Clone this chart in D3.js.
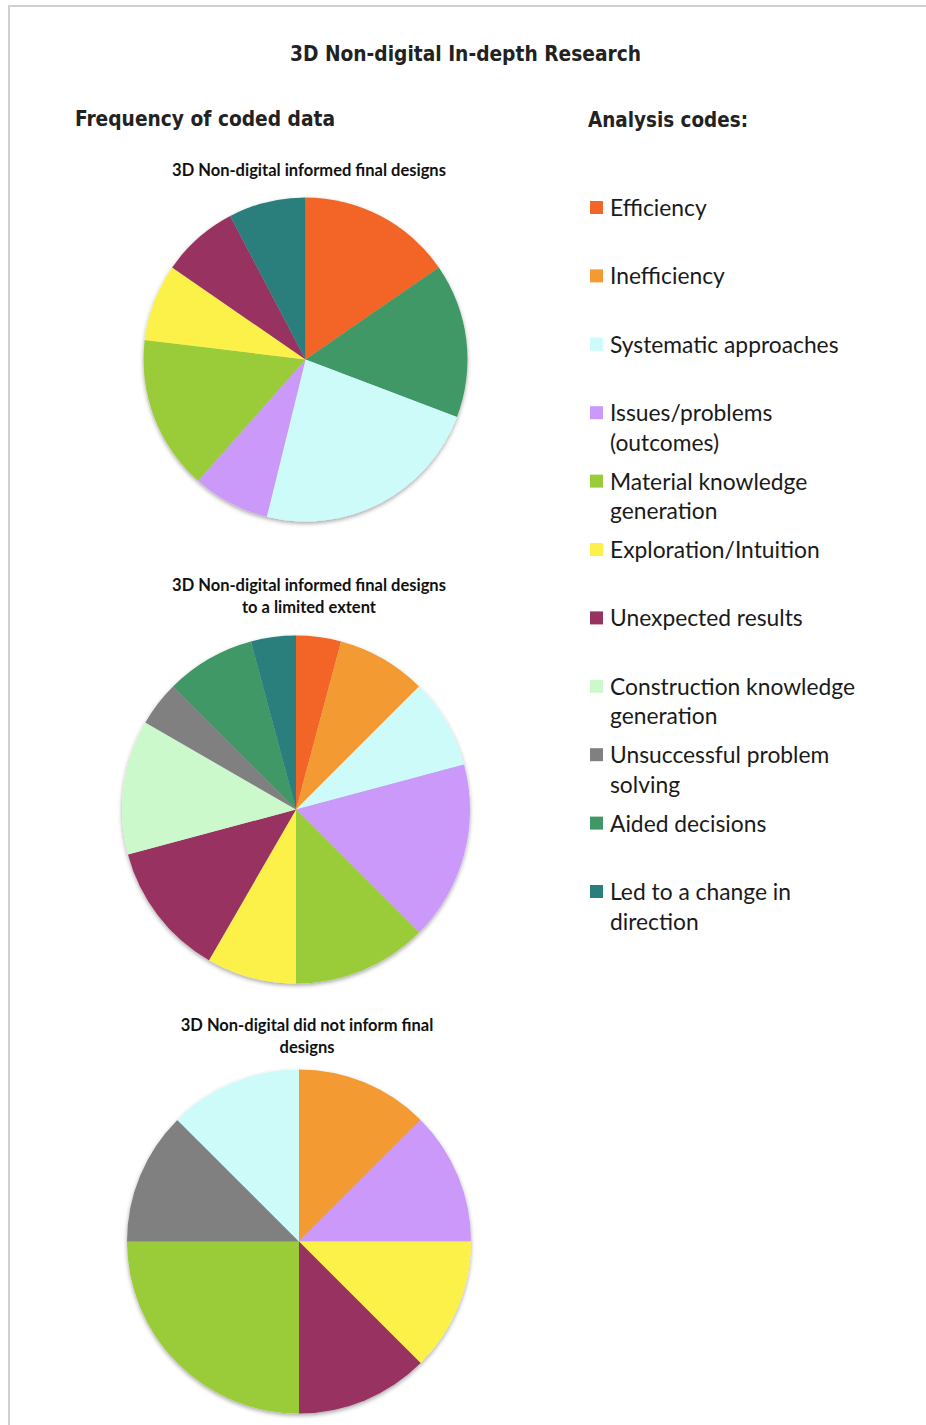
<!DOCTYPE html>
<html>
<head>
<meta charset="utf-8">
<script src="https://cdn.jsdelivr.net/npm/d3@7"></script>
<style>
  body { margin: 0; background: #fff; }
  .cond { font-family: 'Liberation Sans Narrow', 'DejaVu Sans Condensed', sans-serif; font-weight: bold; }
  .cal { font-family: 'Lato', 'Open Sans', sans-serif; }
</style>
</head>
<body>
<script>
// analysis codes (legend order) and their colours
const codes = [
  'Efficiency', 'Inefficiency', 'Systematic approaches', 'Issues/problems (outcomes)',
  'Material knowledge generation', 'Exploration/Intuition', 'Unexpected results',
  'Construction knowledge generation', 'Unsuccessful problem solving',
  'Aided decisions', 'Led to a change in direction'
];
const codeLines = [
  ['Efficiency'], ['Inefficiency'], ['Systematic approaches'], ['Issues/problems', '(outcomes)'],
  ['Material knowledge', 'generation'], ['Exploration/Intuition'], ['Unexpected results'],
  ['Construction knowledge', 'generation'], ['Unsuccessful problem', 'solving'],
  ['Aided decisions'], ['Led to a change in', 'direction']
];
const codeColors = [
  '#f26527', '#f49a33', '#ccfbfa', '#cb99f9', '#99cc38', '#fcf14a', '#983261',
  '#cbf9cc', '#808080', '#3f9866', '#2a7f7c'
];

// pie 1: informed final designs (slice order as drawn)
const pie1Codes = ['Efficiency', 'Aided decisions', 'Systematic approaches', 'Issues/problems (outcomes)',
  'Material knowledge generation', 'Exploration/Intuition', 'Unexpected results', 'Led to a change in direction'];
const pie1Values = [2, 2, 3, 1, 2, 1, 1, 1];

// pie 2: informed final designs to a limited extent
const pie2Codes = codes.slice();
const pie2Values = [1, 2, 2, 4, 3, 2, 3, 3, 1, 2, 1];

// pie 3: did not inform final designs
const pie3Codes = ['Inefficiency', 'Issues/problems (outcomes)', 'Exploration/Intuition', 'Unexpected results',
  'Material knowledge generation', 'Unsuccessful problem solving', 'Systematic approaches'];
const pie3Values = [1, 1, 1, 1, 2, 1, 1];

const W = 926, H = 1425;
const color = d3.scaleOrdinal().domain(codes).range(codeColors);

const svg = d3.select(document.body).append('svg')
  .attr('width', W).attr('height', H);

const defs = svg.append('defs');
const f = defs.append('filter').attr('id', 'shadow')
  .attr('x', '-10%').attr('y', '-10%').attr('width', '120%').attr('height', '120%');
f.append('feDropShadow').attr('dx', 0).attr('dy', 2).attr('stdDeviation', 2)
  .attr('flood-color', '#000').attr('flood-opacity', 0.35);

// frame
svg.append('path')
  .attr('d', `M9,${H} V6 H${W}`)
  .attr('fill', 'none').attr('stroke', '#d0d0d0').attr('stroke-width', 2);

svg.append('text').attr('class', 'cond')
  .attr('x', 290).attr('y', 61)
  .attr('font-size', 21).attr('fill', '#222')
  .attr('textLength', 351).attr('lengthAdjust', 'spacingAndGlyphs')
  .text('3D Non-digital In-depth Research');

svg.append('text').attr('class', 'cond')
  .attr('x', 75).attr('y', 126)
  .attr('font-size', 22).attr('fill', '#222')
  .attr('textLength', 260).attr('lengthAdjust', 'spacingAndGlyphs')
  .text('Frequency of coded data');

svg.append('text').attr('class', 'cond')
  .attr('x', 588).attr('y', 127)
  .attr('font-size', 22).attr('fill', '#222')
  .attr('textLength', 160).attr('lengthAdjust', 'spacingAndGlyphs')
  .text('Analysis codes:');

const pies = [
  { codes: pie1Codes, values: pie1Values, cx: 305.5, cy: 359.5, r: 162,
    title: ['3D Non-digital informed final designs'], tx: 309, ty: 176 },
  { codes: pie2Codes, values: pie2Values, cx: 296, cy: 809.5, r: 174,
    title: ['3D Non-digital informed final designs', 'to a limited extent'], tx: 309, ty: 591 },
  { codes: pie3Codes, values: pie3Values, cx: 299, cy: 1241.5, r: 172,
    title: ['3D Non-digital did not inform final', 'designs'], tx: 307, ty: 1031 }
];

const pie = d3.pie().sort(null).value(d => d.v);

pies.forEach(p => {
  const data = p.codes.map((c, i) => ({ c: c, v: p.values[i] }));
  const arc = d3.arc().innerRadius(0).outerRadius(p.r);
  const g = svg.append('g')
    .attr('transform', `translate(${p.cx},${p.cy})`)
    .attr('filter', 'url(#shadow)');
  g.selectAll('path').data(pie(data)).enter().append('path')
    .attr('d', arc)
    .attr('fill', d => color(d.data.c));

  svg.append('text').attr('class', 'cal')
    .attr('text-anchor', 'middle')
    .attr('font-size', 16.5).attr('font-weight', 'bold').attr('fill', '#111')
    .selectAll('tspan').data(p.title).enter().append('tspan')
    .attr('x', p.tx).attr('y', (d, i) => p.ty + i * 22)
    .text(d => d);
});

// legend
const y = d3.scaleLinear().domain([0, codes.length - 1]).range([208, 892]);
const leg = svg.append('g').selectAll('g').data(codes).enter().append('g')
  .attr('transform', (d, i) => `translate(590,${y(i)})`);
leg.append('rect')
  .attr('x', 0).attr('y', -7).attr('width', 13).attr('height', 13)
  .attr('fill', d => color(d));
leg.append('text').attr('class', 'cal')
  .attr('font-size', 22.8).attr('fill', '#1a1a1a')
  .selectAll('tspan').data((d, i) => codeLines[i]).enter().append('tspan')
  .attr('x', 20).attr('y', (d, i) => 8 + i * 29.5)
  .text(d => d);
</script>
</body>
</html>
